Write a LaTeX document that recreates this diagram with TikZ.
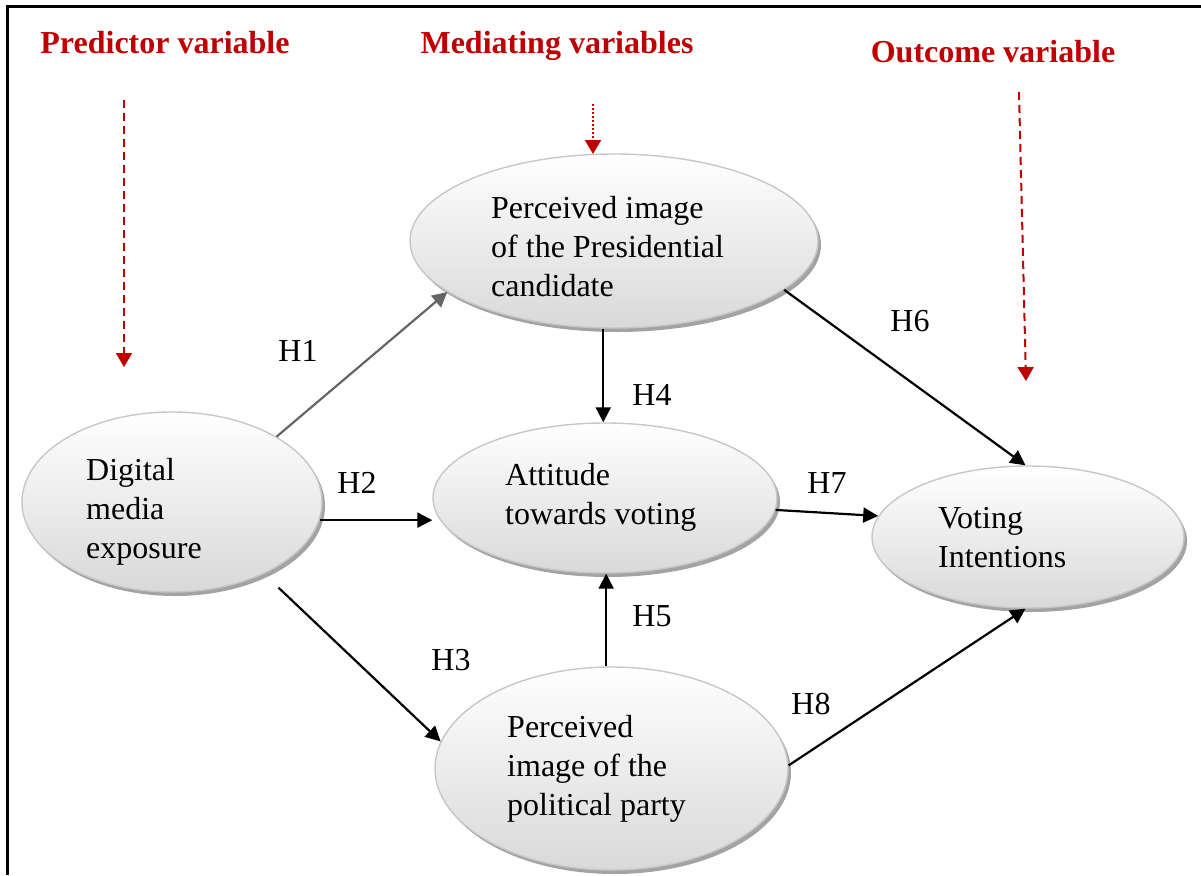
\documentclass[tikz,border=0pt]{standalone}
\usepackage{fontspec}
\setmainfont{Liberation Serif}
\usetikzlibrary{arrows.meta,shapes.geometric,shadows}
\definecolor{hdred}{HTML}{C00000}
\begin{document}
\begin{tikzpicture}[x=1pt,y=-1pt,
  construct/.style={ellipse, inner sep=0pt, draw=black!22, line width=1.4pt,
    top color=white, bottom color=black!15,
    drop shadow={shadow xshift=3pt, shadow yshift=-4pt, fill=black!45, opacity=0.8}},
  lbl/.style={font=\fontsize{32}{38.8}\selectfont, align=left, inner sep=0pt, anchor=north west},
  hyp/.style={font=\fontsize{32}{38}\selectfont, inner sep=0pt},
  head/.style={font=\fontsize{32}{38}\selectfont\bfseries, text=hdred, inner sep=0pt, anchor=base},
  link/.style={line width=2.2pt, -{Triangle[length=15pt,width=15pt]}},
  cue/.style={draw=hdred, line width=2pt, -{Triangle[length=14pt,width=16pt]}}
]
\clip (0,0) rectangle (1201,875);

% frame
\draw[line width=3pt] (7,875) -- (7,7) -- (1201,7);

% headings
\node[head] (hpred) at (165,54) {Predictor variable};
\node[head] (hmed)  at (557,54) {Mediating variables};
\node[head] (hout)  at (993,63) {Outcome variable};

% constructs
\node[construct, minimum width=300pt, minimum height=180pt] (dme)   at (172,502)   {};
\node[construct, minimum width=408pt, minimum height=174pt] (cand)  at (614,241)   {};
\node[construct, minimum width=344pt, minimum height=150pt] (att)   at (605,498)   {};
\node[construct, minimum width=312pt, minimum height=142pt] (vote)  at (1028,537)  {};
\node[construct, minimum width=353pt, minimum height=203pt] (party) at (611.5,768.5) {};

% construct texts
\node[lbl] (tdme)   at (86,458)  {Digital\\media\\exposure};
\node[lbl] (tcand)  at (491,196) {Perceived image\\of the Presidential\\candidate};
\node[lbl] (tatt)   at (505,463) {Attitude\\towards voting};
\node[lbl] (tvote)  at (938,507) {Voting\\Intentions};
\node[lbl] (tparty) at (507,715) {Perceived\\image of the\\political party};

% red cue arrows
\coordinate (p1) at (124,100);  \coordinate (p2) at (124,367);
\coordinate (m1) at (593,104);  \coordinate (m2) at (593,154);
\coordinate (o1) at (1019,92);  \coordinate (o2) at (1026,381);
\draw[cue, dash pattern=on 8pt off 5pt] (p1) -- (p2);
\draw[cue, dash pattern=on 2pt off 2pt] (m1) -- (m2);
\draw[cue, dash pattern=on 8pt off 5pt] (o1) -- (o2);

% hypothesised paths
\draw[link, draw=black!60, -{Triangle[length=15pt,width=15pt,fill=black!60]}] (dme.32) -- (cand.197);
\draw[link] (dme.-7) -- (att.west |- dme.-7);
\draw[link, shorten <=20pt] (dme.-38) -- (party.171);
\draw[link] (cand.263) -- (cand.263 |- att.north);
\draw[link] (party.93) -- (party.93 |- att.south);
\draw[link] (cand.-16) -- (vote.92);
\draw[link] (att.-4) -- (vote.172);
\draw[link] (party.1) -- (vote.268);

% hypothesis labels
\node[hyp] (h1) at (298,351) {H1};
\node[hyp] (h2) at (357,483) {H2};
\node[hyp] (h3) at (451,660) {H3};
\node[hyp] (h4) at (652,395) {H4};
\node[hyp] (h5) at (652,616) {H5};
\node[hyp] (h6) at (910,321) {H6};
\node[hyp] (h7) at (827,483) {H7};
\node[hyp] (h8) at (811,704) {H8};
\end{tikzpicture}
\end{document}
